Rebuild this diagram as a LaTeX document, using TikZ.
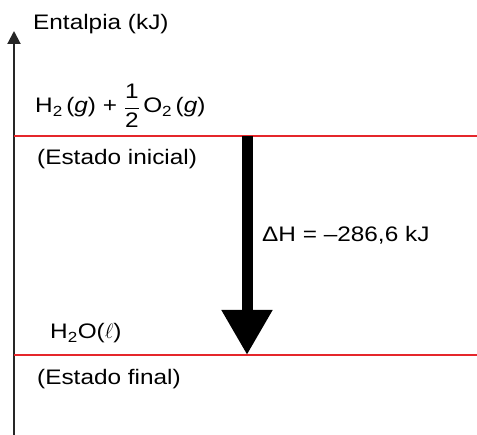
\documentclass[tikz,border=0pt]{standalone}
\usepackage{fontspec}
\setmainfont{Liberation Sans}[FakeStretch=1.16]
\usetikzlibrary{arrows.meta}
\definecolor{nivel}{HTML}{E5262B}
\tikzset{
    rotulo/.style={anchor=base west, inner sep=0pt, font=\fontsize{21}{25}\selectfont},
    nivelline/.style={draw=nivel, line width=1.6pt},
}
\begin{document}
\begin{tikzpicture}[x=1pt, y=-1pt]
    \useasboundingbox (0,0) rectangle (477,435);
    % eixo da entalpia
    \coordinate (eixoBase) at (14,435);
    \coordinate (eixoTopo) at (14,31);
    \draw[line width=2pt, black!85, -{Triangle[length=13pt, width=13pt]}] (eixoBase) -- (eixoTopo);
    \node[rotulo] (entalpia) at (33,30) {Entalpia (kJ)};
    % niveis
    \coordinate (iniA) at (14,136);
    \coordinate (iniB) at (477,136);
    \coordinate (finA) at (14,355);
    \coordinate (finB) at (477,355);
    \draw[nivelline] (iniA) -- (iniB);
    \draw[nivelline] (finA) -- (finB);
    \node[rotulo] (reagentes) at (35,113) {H\textsubscript{2}\,(\textit{g}) + $\displaystyle\frac{\mbox{1}}{\mbox{2}}$\,O\textsubscript{2}\,(\textit{g})};
    \node[rotulo] (inicial) at (37,165) {(Estado inicial)};
    \node[rotulo] (produto) at (50,339) {H\textsubscript{2}O($\ell$)};
    \node[rotulo] (final) at (37,385) {(Estado final)};
    % variacao de entalpia
    \coordinate (setaTopo) at (247,136);
    \coordinate (setaFim) at (247,355);
    \draw[line width=11pt, -{Triangle[length=45pt, width=48pt]}] (setaTopo) -- (setaFim);
    \node[rotulo] (deltaH) at (262,242) {ΔH = –286,6 kJ};
\end{tikzpicture}
\end{document}
